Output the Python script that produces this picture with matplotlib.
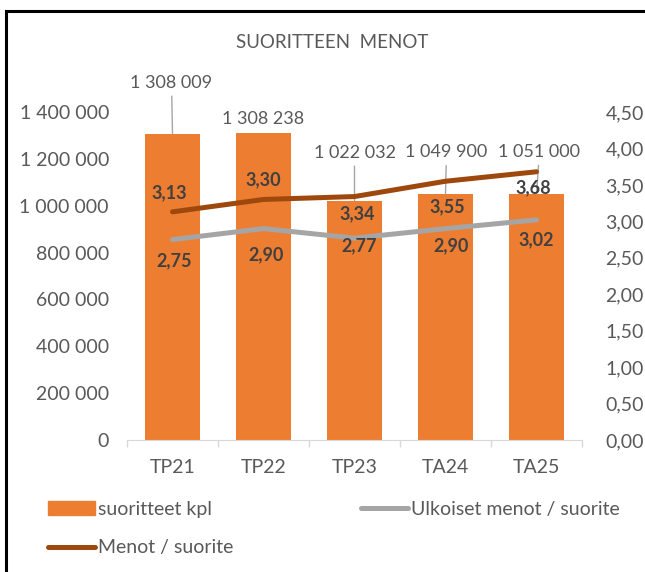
import matplotlib
matplotlib.use("Agg")
import matplotlib.pyplot as plt
from matplotlib.lines import Line2D
from matplotlib.ticker import FuncFormatter, MultipleLocator, FixedLocator

plt.rcParams["font.family"] = ["Lato", "DejaVu Sans"]

# Data
categories = ["TP21", "TP22", "TP23", "TA24", "TA25"]
suoritteet = [1308009, 1308238, 1022032, 1049900, 1051000]
menot = [3.13, 3.30, 3.34, 3.55, 3.68]
ulkoiset = [2.75, 2.90, 2.77, 2.90, 3.02]

# Label placement (pixel offsets from the mark)
bar_lbl_dx = [-1, 0, 0, 1, 3]
bar_lbl_dy = [51, 14, 48, 42, 42]
bar_leader = [True, False, True, True, True]
menot_dx = [-3, 0, 3, 2, -3]
menot_dy = [19, 20, -17, -26, -16]
ulk_dx = [2, 3, 5, 6, 0]
ulk_dy = [-21, -26, -8, -17, -20]

ORANGE = "#ED7D31"
BROWN = "#9E480E"
GRAY = "#A5A5A5"
TXT = "#595959"
LBL = "#404040"

fig = plt.figure(figsize=(6.45, 5.72), dpi=100)
ax = fig.add_axes([127 / 645, 132 / 572, 455 / 645, 328 / 572])
ax2 = ax.twinx()

x = list(range(len(categories)))
ax.bar(x, suoritteet, width=0.6, color=ORANGE, zorder=2)
ax2.plot(x, ulkoiset, color=GRAY, lw=3.6, solid_capstyle="round", zorder=3)
ax2.plot(x, menot, color=BROWN, lw=3.6, solid_capstyle="round", zorder=3)

ax.set_xlim(-0.5, len(categories) - 0.5)
ax.set_ylim(0, 1400000)
ax2.set_ylim(0, 4.5)

ax.yaxis.set_major_locator(MultipleLocator(200000))
ax.yaxis.set_major_formatter(FuncFormatter(lambda v, p: f"{int(v):,}".replace(",", " ")))
ax2.yaxis.set_major_locator(MultipleLocator(0.5))
ax2.yaxis.set_major_formatter(FuncFormatter(lambda v, p: f"{v:.2f}".replace(".", ",")))

ax.set_xticks(x)
ax.set_xticklabels(categories)
ax.xaxis.set_minor_locator(FixedLocator([i - 0.5 for i in range(len(categories) + 1)]))
ax.tick_params(axis="x", which="major", length=0, pad=14, labelsize=14, labelcolor=TXT)
ax.tick_params(axis="x", which="minor", length=5, width=1, color="#D9D9D9")
ax.tick_params(axis="y", length=0, pad=13, labelsize=14, labelcolor=TXT)
ax2.tick_params(axis="y", length=0, pad=17, labelsize=14, labelcolor=TXT)

for a in (ax, ax2):
    for s in ("top", "left", "right"):
        a.spines[s].set_visible(False)
    a.spines["bottom"].set_color("#D9D9D9")
ax2.spines["bottom"].set_visible(False)

# Bar data labels
for i, v in enumerate(suoritteet):
    props = dict(arrowstyle="-", color="#A6A6A6", lw=1, shrinkA=2, shrinkB=0) if bar_leader[i] else None
    ax.annotate(f"{v:,}".replace(",", " "), xy=(i, v), xytext=(bar_lbl_dx[i], bar_lbl_dy[i]),
                textcoords="offset pixels", ha="center", va="center", fontsize=13,
                color=TXT, arrowprops=props, zorder=4)

# Line data labels
for i, v in enumerate(menot):
    ax2.annotate(f"{v:.2f}".replace(".", ","), xy=(i, v), xytext=(menot_dx[i], menot_dy[i]),
                 textcoords="offset pixels", ha="center", va="center", fontsize=13,
                 fontweight="bold", color=LBL, zorder=5)
for i, v in enumerate(ulkoiset):
    ax2.annotate(f"{v:.2f}".replace(".", ","), xy=(i, v), xytext=(ulk_dx[i], ulk_dy[i]),
                 textcoords="offset pixels", ha="center", va="center", fontsize=13,
                 fontweight="bold", color=LBL, zorder=5)

fig.text(332 / 645, 1 - 42 / 572, "SUORITTEEN  MENOT", ha="center", va="center",
         fontsize=13.5, color=TXT)

# Legend
h_bar = plt.Rectangle((0, 0), 1, 1, color=ORANGE)
h_menot = Line2D([], [], color=BROWN, lw=3.6, solid_capstyle="round")
h_ulk = Line2D([], [], color=GRAY, lw=3.6, solid_capstyle="round")
leg = fig.legend([h_bar, h_menot, h_ulk],
                 ["suoritteet kpl", "Menot / suorite", "Ulkoiset menot / suorite"],
                 ncol=2, loc="upper left", bbox_to_anchor=(48 / 645, 1 - 501 / 572),
                 frameon=False, fontsize=14, handlelength=2.4, handleheight=0.7,
                 handletextpad=0.15, columnspacing=6.6, labelspacing=1.1,
                 labelcolor=TXT, borderaxespad=0, borderpad=0)

# Outer frame (left and top edges)
fig.add_artist(Line2D([6 / 645, 6 / 645], [0, 1 - 11 / 572], transform=fig.transFigure,
                      color="black", lw=2.2))
fig.add_artist(Line2D([6 / 645, 1], [1 - 11 / 572, 1 - 11 / 572], transform=fig.transFigure,
                      color="black", lw=2.2))

fig.savefig("out.png", dpi=100)
